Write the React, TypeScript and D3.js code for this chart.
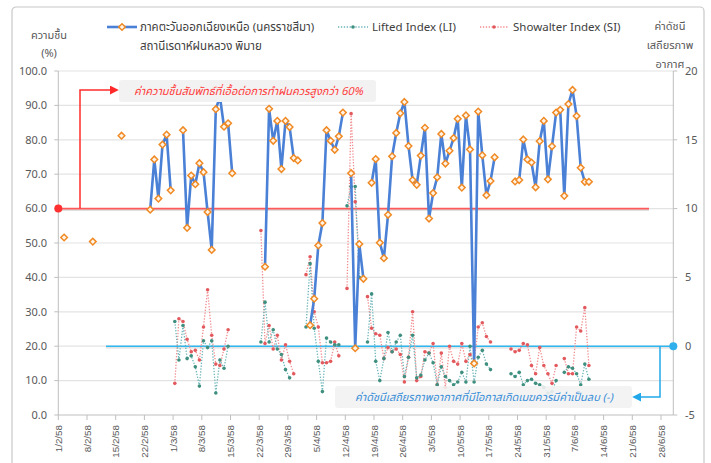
import React from "react";
import * as d3 from "d3";

// Daily values starting 1/2/58 (1 Feb 2015), null = no observation
const startYear = 2015;
const startMonth = 1; // February (0-based)
const obsHour = 10;

const humidity: (number | null)[] = [
  null, 51.6, null, null, null, null, null, null, 50.4, null,
  null, null, null, null, null, 81.2, null, null, null, null,
  null, null, 59.7, 74.3, 62.9, 78.6, 81.5, 65.3, null, null,
  82.8, 54.4, 69.6, 67.1, 73.2, 70.6, 59.0, 48.0, 88.9, 92.5,
  83.8, 84.8, 70.3, null, null, null, null, null, null, null,
  43.1, 89.0, 79.7, 85.5, 71.5, 85.5, 83.7, 74.7, 74.0, null,
  null, 26.1, 33.8, 49.3, 55.8, 82.8, 79.7, 77.1, 81.0, 87.9,
  null, 70.3, 19.4, 49.7, 39.6, null, 67.5, 74.4, 50.1, 45.6,
  58.2, 75.2, 82.0, 87.7, 91.0, 78.2, 68.3, 66.9, 75.4, 83.5,
  57.1, 64.5, 69.1, 81.7, 73.1, 76.8, 80.5, 86.1, 66.1, 87.1,
  77.2, 15.0, 88.2, 75.5, 63.9, 68.0, 74.9, null, null, null,
  null, 67.9, 68.3, 80.1, 74.3, 73.4, 66.2, 79.6, 85.5, 68.5,
  78.1, 87.9, 88.7, 63.7, 90.4, 94.5, 86.9, 71.9, 67.8, 67.8,
];

const liftedIndex: (number | null)[] = [
  null, null, null, null, null, null, null, null, null, null,
  null, null, null, null, null, null, null, null, null, null,
  null, null, null, null, null, null, null, null, 1.8, -1.0,
  1.5, -0.9, -0.7, -1.5, -2.9, 0.4, -0.1, 0.4, -3.4, -1.0,
  -1.6, 0.0, null, null, null, null, null, null, null, 0.3,
  3.2, 0.3, 1.2, -0.2, -0.6, -1.7, -2.3, null, null, null,
  1.4, 6.0, 1.3, -1.1, -3.3, 0.6, 0.3, 0.1, 0.1, null,
  10.2, 11.6, 11.6, 5.0, null, 0.3, 3.8, -1.1, -2.5, -0.9,
  1.0, -0.4, 0.3, 0.8, -2.2, -0.8, 0.8, -2.3, -2.1, -1.0,
  -0.5, -1.2, -2.8, -1.5, -2.2, -2.5, -2.8, -2.6, -1.9, -2.6,
  0.0, -2.6, -0.8, -0.3, -1.3, -1.7, null, null, null, null,
  -2.0, -2.2, -1.9, -2.8, -2.5, -2.4, -2.7, -2.8, -3.0, -3.4,
  -3.3, -2.5, null, -1.9, -1.5, -1.6, -2.0, -2.8, -1.3, -2.4,
];

const showalterIndex: (number | null)[] = [
  null, null, null, null, null, null, null, null, null, null,
  null, null, null, null, null, null, null, null, null, null,
  null, null, null, null, null, null, null, null, -2.7, 2.0,
  1.8, 0.5, -0.4, -0.3, -1.0, 1.4, 4.1, 0.8, -1.3, -1.4,
  -0.2, 1.2, null, null, null, null, null, null, null, 8.4,
  0.2, 1.5, -0.2, 0.8, -1.0, 0.1, -1.1, -2.0, null, null,
  5.2, 6.5, 2.5, 1.4, -1.2, -1.2, -1.1, 0.3, -0.7, null,
  4.2, 16.9, 10.5, 6.5, null, 3.6, 1.3, 0.9, 0.8, -0.9,
  -0.1, -0.4, -0.2, -0.6, -2.6, -0.8, 2.5, -2.5, -2.2, -0.4,
  -0.5, 0.2, -2.8, -0.5, -3.0, 0.0, -1.1, -1.3, 0.2, -1.1,
  -0.6, -1.2, 1.4, 1.7, 0.7, 0.3, null, null, null, null,
  -0.2, -0.4, -0.3, 0.2, 0.1, -1.4, -2.0, -0.1, -1.4, -2.0,
  -2.7, -1.4, null, -0.9, -2.0, -2.0, 1.4, 1.1, 2.8, -1.4,
];

const leftTicks = [0, 10, 20, 30, 40, 50, 60, 70, 80, 90, 100];
const rightTicks = [-5, 0, 5, 10, 15, 20];
const humidityThreshold = 60;
const indexThreshold = 0;

const legendHumidity1 = "ภาคตะวันออกเฉียงเหนือ  (นครราชสีมา)";
const legendHumidity2 = "สถานีเรดาห์ฝนหลวง  พิมาย";
const legendLI = "Lifted Index (LI)";
const legendSI = "Showalter Index (SI)";
const leftTitle = ["ความชื้น", "(%)"];
const rightTitle = ["ค่าดัชนี", "เสถียรภาพ", "อากาศ"];
const noteHumidity = "ค่าความชื้นสัมพัทธ์ที่เอื้อต่อการทำฝนควรสูงกว่า  60%";
const noteIndex = "ค่าดัชนีเสถียรภาพอากาศที่มีโอกาสเกิดเมฆควรมีค่าเป็นลบ  (-)";

type Pt = { date: Date; v: number | null };
const toPoints = (arr: (number | null)[]): Pt[] =>
  arr.map((v, i) => ({ date: new Date(startYear, startMonth, 1 + i, obsHour), v }));

const FONT = "Tahoma, 'Leelawadee UI', 'Noto Sans Thai', 'Noto Sans', 'DejaVu Sans', sans-serif";
const GRAY = "#595959";

export default function App() {
  const W = 711, H = 463;
  const left = 58.3, right = 673.3, top = 71, bottom = 415;
  const x = d3.scaleTime()
    .domain([new Date(startYear, startMonth, 1), new Date(startYear, 6, 1)])
    .range([left, right]);
  const yL = d3.scaleLinear().domain([0, 100]).range([bottom, top]);
  const yR = d3.scaleLinear().domain([-5, 20]).range([bottom, top]);
  const xTicks = x.ticks(d3.timeWeek.every(1)!).filter((d) => d < new Date(startYear, 6, 1));
  const fmt = (d: Date) => `${d.getDate()}/${d.getMonth() + 1}/${(d.getFullYear() + 543) % 100}`;

  const hum = toPoints(humidity);
  const li = toPoints(liftedIndex);
  const si = toPoints(showalterIndex);

  const lineL = d3.line<Pt>().defined((d) => d.v != null).x((d) => x(d.date)).y((d) => yL(d.v as number));
  const lineR = d3.line<Pt>().defined((d) => d.v != null).x((d) => x(d.date)).y((d) => yR(d.v as number));

  const diamond = (cx: number, cy: number, r: number) =>
    `M${cx},${cy - r}L${cx + r},${cy}L${cx},${cy + r}L${cx - r},${cy}Z`;

  const yRed = yL(humidityThreshold);
  const yBlue = yR(indexThreshold);

  return (
    <svg width={W} height={H} style={{ position: "absolute", left: 0, top: 0, fontFamily: FONT }}>
      <defs>
        <marker id="arrR" viewBox="0 0 10 10" refX="8" refY="5" markerWidth="6" markerHeight="6" orient="auto">
          <path d="M0,0L10,5L0,10Z" fill="#ff2b2b" />
        </marker>
        <marker id="arrB" viewBox="0 0 10 10" refX="8" refY="5" markerWidth="6" markerHeight="6" orient="auto">
          <path d="M0,0L10,5L0,10Z" fill="#22a8ea" />
        </marker>
      </defs>
      <rect x={0} y={0} width={W} height={H} fill="#fff" />
      <rect x={12} y={7} width={692} height={470} rx={4} fill="#fff" stroke="#c8c8c8" strokeWidth={1.2} />

      {/* gridlines */}
      {leftTicks.filter((t) => t > 0).map((t) => (
        <line key={t} x1={left} x2={right} y1={yL(t)} y2={yL(t)} stroke="#e3e3e3" strokeWidth={1.2} />
      ))}
      {/* axes */}
      <line x1={left} x2={left} y1={top} y2={bottom} stroke="#bfbfbf" />
      <line x1={right} x2={right} y1={top} y2={bottom} stroke="#bfbfbf" />
      <line x1={left} x2={right} y1={bottom} y2={bottom} stroke="#bfbfbf" />
      {leftTicks.map((t) => (
        <g key={t}>
          <line x1={left - 4} x2={left} y1={yL(t)} y2={yL(t)} stroke="#bfbfbf" />
          <text x={47} y={yL(t)} dy="0.35em" textAnchor="end" fontSize={11} fill={GRAY}>{t.toFixed(1)}</text>
        </g>
      ))}
      {rightTicks.map((t) => (
        <g key={t}>
          <line x1={right} x2={right + 4} y1={yR(t)} y2={yR(t)} stroke="#bfbfbf" />
          <text x={685} y={yR(t)} dy="0.35em" textAnchor="start" fontSize={11} fill={GRAY}>{t}</text>
        </g>
      ))}
      {xTicks.map((d, i) => (
        <g key={i}>
          <line x1={x(d)} x2={x(d)} y1={bottom} y2={bottom + 5} stroke="#bfbfbf" />
          <text transform={`translate(${x(d) + 3.5},${bottom + 10}) rotate(-90)`} textAnchor="end"
            fontSize={9.8} fontFamily="'Liberation Sans', Arial, sans-serif" fill={GRAY}>
            {fmt(d)}
          </text>
        </g>
      ))}

      {/* threshold lines */}
      <line x1={left} x2={649} y1={yRed + 1.5} y2={yRed + 1.5} stroke="#000" strokeOpacity={0.12} strokeWidth={2} />
      <line x1={left} x2={649} y1={yRed} y2={yRed} stroke="#ff5a5a" strokeWidth={1.8} />
      <circle cx={left} cy={yRed} r={4} fill="#ff3030" />
      <line x1={106} x2={right} y1={yBlue + 1.5} y2={yBlue + 1.5} stroke="#000" strokeOpacity={0.1} strokeWidth={2} />
      <line x1={106} x2={right} y1={yBlue} y2={yBlue} stroke="#2fb8f0" strokeWidth={1.6} />
      <circle cx={right} cy={yBlue} r={4} fill="#2fb0ec" />

      {/* index series */}
      <path d={lineR(si) || ""} fill="none" stroke="#f28b8e" strokeWidth={1.3} strokeDasharray="1.3 1.6" />
      <path d={lineR(li) || ""} fill="none" stroke="#6ab4b8" strokeWidth={1.3} strokeDasharray="1.3 1.6" />
      {si.filter((d) => d.v != null).map((d, i) => (
        <circle key={"s" + i} cx={x(d.date)} cy={yR(d.v as number)} r={1.8} fill="#e35a5e" />
      ))}
      {li.filter((d) => d.v != null).map((d, i) => (
        <circle key={"l" + i} cx={x(d.date)} cy={yR(d.v as number)} r={1.8} fill="#3f8f7f" />
      ))}

      {/* humidity */}
      <path d={lineL(hum) || ""} fill="none" stroke="#4a80d6" strokeWidth={2.6} strokeLinejoin="round" />
      {hum.filter((d) => d.v != null).map((d, i) => (
        <path key={"h" + i} d={diamond(x(d.date), yL(d.v as number), 3.3)} fill="#fff4e8" stroke="#f08a24" strokeWidth={1.5} />
      ))}

      {/* annotations */}
      <rect x={119} y={80} width={257} height={22} rx={3} fill="#f2f2f2" />
      <text x={134} y={95} fontSize={11} fontStyle="italic" fill="#ff3b3b">{noteHumidity}</text>
      <path d={`M80,${yRed}V90H117`} fill="none" stroke="#ff2b2b" strokeWidth={1.5} markerEnd="url(#arrR)" />

      <rect x={335} y={386} width={297} height={22} rx={3} fill="#f2f2f2" fillOpacity={0.9} />
      <text x={355} y={401} fontSize={11} fontStyle="italic" fill="#3a8fd8">{noteIndex}</text>
      <path d={`M660,${yBlue}V397H634`} fill="none" stroke="#22a8ea" strokeWidth={1.5} markerEnd="url(#arrB)" />

      {/* legend */}
      <line x1={107} x2={137} y1={27} y2={27} stroke="#4a80d6" strokeWidth={2.6} />
      <path d={diamond(122, 27, 3.3)} fill="#fff4e8" stroke="#f08a24" strokeWidth={1.5} />
      <text x={140} y={27} dy="0.35em" fontSize={11.5} fill="#404040">{legendHumidity1}</text>
      <text x={140} y={46} dy="0.35em" fontSize={11.5} fill="#404040">{legendHumidity2}</text>
      <line x1={338} x2={368} y1={27} y2={27} stroke="#6ab4b8" strokeWidth={1.3} strokeDasharray="1.3 1.6" />
      <circle cx={353} cy={27} r={1.8} fill="#3f8f7f" />
      <text x={372} y={27} dy="0.35em" fontSize={11.5} fill="#404040">{legendLI}</text>
      <line x1={480} x2={509} y1={27} y2={27} stroke="#f28b8e" strokeWidth={1.3} strokeDasharray="1.3 1.6" />
      <circle cx={494} cy={27} r={1.8} fill="#e35a5e" />
      <text x={513} y={27} dy="0.35em" fontSize={11.5} fill="#404040">{legendSI}</text>

      {/* axis titles */}
      {leftTitle.map((t, i) => (
        <text key={t} x={49} y={35 + i * 18} dy="0.35em" textAnchor="middle" fontSize={11} fill={GRAY}>{t}</text>
      ))}
      {rightTitle.map((t, i) => (
        <text key={t} x={670} y={26 + i * 19} dy="0.35em" textAnchor="middle" fontSize={11} fill={GRAY}>{t}</text>
      ))}
    </svg>
  );
}
